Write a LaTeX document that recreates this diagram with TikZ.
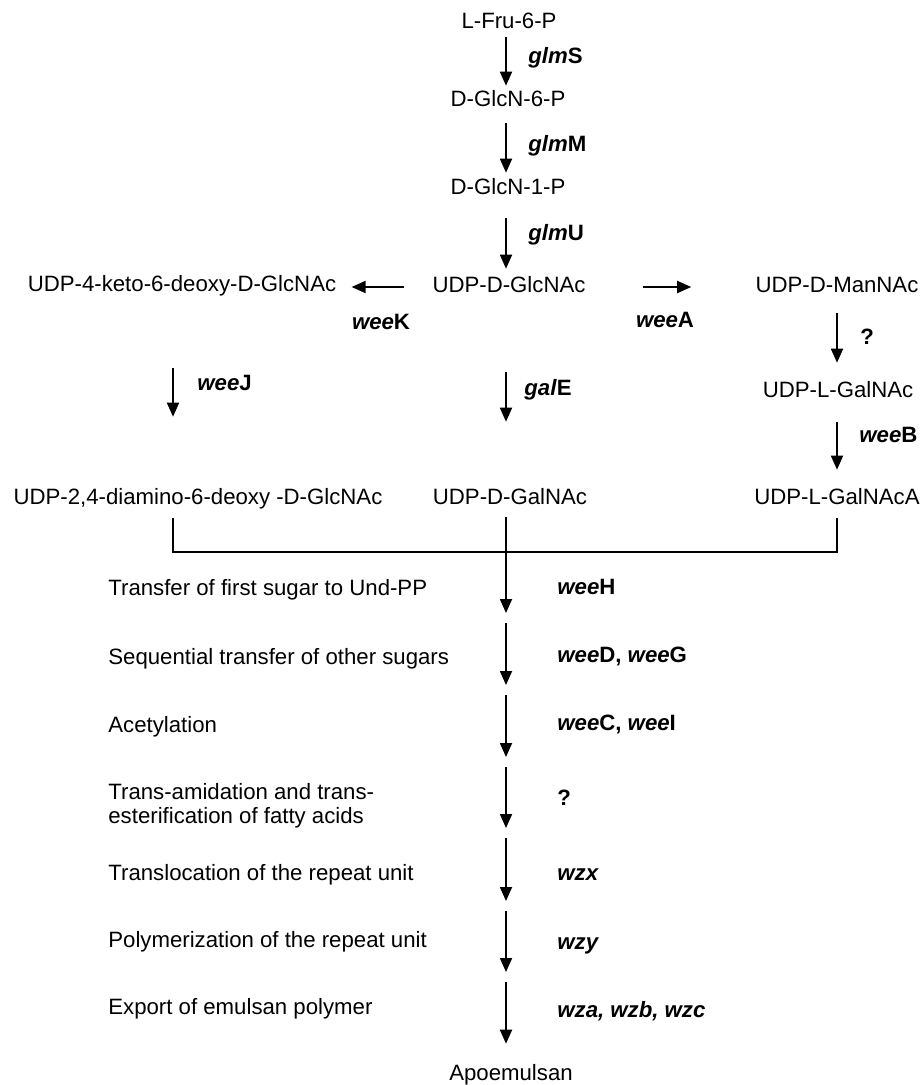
\documentclass[tikz,border=0pt]{standalone}
\usepackage{fontspec}
\setmainfont{Liberation Sans}
\usetikzlibrary{arrows.meta}
\begin{document}
\begin{tikzpicture}[x=0.5pt,y=-0.5pt,
  every node/.style={inner sep=0pt, font=\fontsize{11.1}{13.3}\selectfont},
  cmp/.style={text height=7.9pt, text depth=0pt},
  lbl/.style={anchor=west, text height=7.9pt, text depth=0pt},
  gene/.style={anchor=west, text height=7.9pt, text depth=0pt, font=\fontsize{11.1}{13.3}\selectfont\bfseries},
  genec/.style={text height=7.9pt, text depth=0pt, font=\fontsize{11.1}{13.3}\selectfont\bfseries},
  arr/.style={line width=0.9pt, -{Triangle[width=6pt,length=7pt]}},
  ln/.style={line width=0.9pt}]
\useasboundingbox (0,0) rectangle (920,1085);
\fill[white] (0,0) rectangle (920,1085);
% axis coordinates
\coordinate (ax) at (506,0);
\coordinate (cJ) at (173,0);
% compounds
\node[cmp] (fru) at (509,21) {L-Fru-6-P};
\node[cmp] (g6p) at (508,99) {D-GlcN-6-P};
\node[cmp] (g1p) at (508,187) {D-GlcN-1-P};
\node[cmp] (glcnac) at (509,285) {UDP-D-GlcNAc};
\node[cmp] (keto) at (182,284) {UDP-4-keto-6-deoxy-D-GlcNAc};
\node[cmp] (mannac) at (837,285) {UDP-D-ManNAc};
\node[cmp] (lgalnac) at (838,390) {UDP-L-GalNAc};
\node[cmp] (diamino) at (198,497) {UDP-2,4-diamino-6-deoxy -D-GlcNAc};
\node[cmp] (galnac) at (510,497) {UDP-D-GalNAc};
\node[cmp] (galnaca) at (837,497) {UDP-L-GalNAcA};
\node[cmp] (apo) at (511,1073) {Apoemulsan};
% gene labels, top part
\node[gene] (glmS) at (528,56) {\textit{glm}S};
\node[gene] (glmM) at (528,144) {\textit{glm}M};
\node[gene] (glmU) at (528,233) {\textit{glm}U};
\node[genec] (weeK) at (381,322) {\textit{wee}K};
\node[genec] (weeA) at (665,320) {\textit{wee}A};
\node[gene] (weeJ) at (197,383) {\textit{wee}J};
\node[gene] (galE) at (524,388) {\textit{gal}E};
\node[gene] (q1) at (860,337) {?};
\node[gene] (weeB) at (859,435) {\textit{wee}B};
% arrows, top part
\draw[arr, shorten <=4pt, shorten >=2.5pt] (ax |- fru.south) -- (ax |- g6p.north);
\draw[arr, shorten <=8pt, shorten >=3pt] (ax |- g6p.south) -- (ax |- g1p.north);
\draw[arr, shorten <=11.5pt, shorten >=4pt] (ax |- g1p.south) -- (ax |- glcnac.north);
\draw[arr, shorten <=39.5pt, shorten >=33.5pt] (ax |- glcnac.south) -- (ax |- galnac.north);
\draw[arr, shorten <=14pt, shorten >=7.5pt] ([yshift=-1pt]glcnac.west) -- ([yshift=-1pt]glcnac.west -| keto.east);
\draw[arr, shorten <=28.5pt, shorten >=32pt] ([yshift=-1pt]glcnac.east) -- ([yshift=-1pt]glcnac.east -| mannac.west);
\draw[arr, shorten <=38pt, shorten >=36pt] (cJ |- keto.south) -- (cJ |- diamino.north);
\draw[arr, shorten <=10pt, shorten >=9.5pt] (mannac.south) -- (mannac.south |- lgalnac.north);
\draw[arr, shorten <=12pt, shorten >=9.5pt] (mannac.south |- lgalnac.south) -- (galnaca.north);
% merge lines
\coordinate (j) at (506,552);
\draw[ln, shorten <=6.5pt, shorten >=6.5pt] (cJ |- diamino.south) -- (cJ |- j) -- (j -| galnaca.south) -- (galnaca.south);
% step coordinates
\coordinate (s1) at (506,618);
\coordinate (s2) at (506,690);
\coordinate (s3) at (506,762);
\coordinate (s4) at (506,833);
\coordinate (s5) at (506,906);
\coordinate (s6) at (506,977);
\draw[arr, shorten <=6pt, shorten >=2.5pt] (ax |- galnac.south) -- (s1);
\draw[arr, shorten <=2.5pt, shorten >=2.5pt] (s1) -- (s2);
\draw[arr, shorten <=2.5pt, shorten >=2.5pt] (s2) -- (s3);
\draw[arr, shorten <=2.5pt, shorten >=2.5pt] (s3) -- (s4);
\draw[arr, shorten <=2.5pt, shorten >=2.5pt] (s4) -- (s5);
\draw[arr, shorten <=2.5pt, shorten >=2.5pt] (s5) -- (s6);
\draw[arr, shorten <=2.5pt, shorten >=10.5pt] (s6) -- (ax |- apo.north);
% step labels
\node[lbl] (t1) at (108,588) {Transfer of first sugar to Und-PP};
\node[lbl] (t2) at (108,657) {Sequential transfer of other sugars};
\node[lbl] (t3) at (108,725) {Acetylation};
\node[anchor=west, align=left, font=\fontsize{11.1}{12}\selectfont] (t4) at (108,806) {Trans-amidation and trans-\\esterification of fatty acids};
\node[lbl] (t5) at (108,873) {Translocation of the repeat unit};
\node[lbl] (t6) at (108,940) {Polymerization of the repeat unit};
\node[lbl] (t7) at (108,1007) {Export of emulsan polymer};
% step genes
\node[gene] (g1) at (557,587) {\textit{wee}H};
\node[gene] (g2) at (557,655) {\textit{wee}D, \textit{wee}G};
\node[gene] (g3) at (557,723) {\textit{wee}C, \textit{wee}I};
\node[gene] (g4) at (557,798) {?};
\node[gene] (g5) at (557,873) {\textit{wzx}};
\node[gene] (g6) at (557,942) {\textit{wzy}};
\node[gene] (g7) at (557,1010) {\textit{wza, wzb, wzc}};
\end{tikzpicture}
\end{document}
